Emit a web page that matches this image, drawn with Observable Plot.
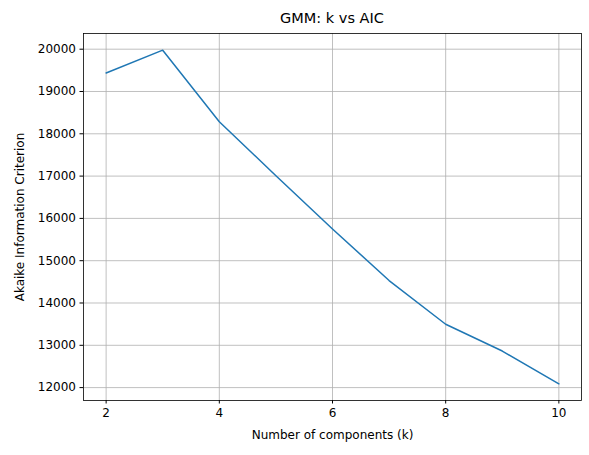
<!DOCTYPE html>
<html><head><meta charset="utf-8">
<script src="https://cdn.jsdelivr.net/npm/d3@7"></script>
<script src="https://cdn.jsdelivr.net/npm/@observablehq/plot@0.6"></script>
<style>
body{margin:0;background:#fff;font-family:"DejaVu Sans",sans-serif;}
#title{height:30px;line-height:36px;text-align:center;font-size:14.5px;padding-left:75px;}
</style></head>
<body>
<div id="title">GMM: k vs AIC</div>
<div id="chart"></div>
<script>
var ks = [2, 3, 4, 5, 6, 7, 8, 9, 10];
var aic = [19437, 19977, 18286, 17010, 15751, 14531, 13498, 12864, 12089];
var xTicks = [2, 4, 6, 8, 10];
var yTicks = [12000, 13000, 14000, 15000, 16000, 17000, 18000, 19000, 20000];

var data = ks.map((k, i) => ({k: k, aic: aic[i]}));

var chart = Plot.plot({
  width: 589,
  height: 425,
  marginTop: 3,
  marginBottom: 55,
  marginLeft: 83,
  marginRight: 8,
  style: {fontFamily: "DejaVu Sans", fontSize: "10px", color: "#000"},
  x: {domain: [1.6, 10.4]},
  y: {domain: [11695, 20371]},
  marks: [
    Plot.gridX(xTicks, {stroke: "#b0b0b0", strokeOpacity: 1, strokeWidth: 0.8}),
    Plot.gridY(yTicks, {stroke: "#b0b0b0", strokeOpacity: 1, strokeWidth: 0.8}),
    Plot.axisX(xTicks, {tickSize: 3.5, tickPadding: 4, fontSize: 12,
      label: "Number of components (k)", labelAnchor: "center", labelOffset: 38, labelArrow: "none"}),
    Plot.axisY(yTicks, {tickSize: 3.5, tickPadding: 4, fontSize: 12, tickFormat: d => String(d),
      label: "Akaike Information Criterion", labelAnchor: "center", labelOffset: 68, labelArrow: "none"}),
    Plot.line(data, {x: "k", y: "aic", stroke: "#1f77b4", strokeWidth: 1.5}),
    Plot.frame({stroke: "#000", strokeWidth: 0.8})
  ]
});
document.getElementById("chart").append(chart);
</script>
</body></html>
